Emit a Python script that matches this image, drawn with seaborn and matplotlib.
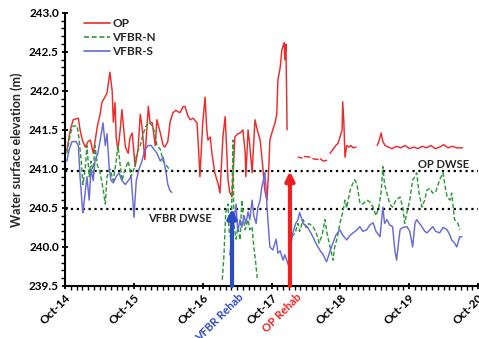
import numpy as np
import pandas as pd
import matplotlib
matplotlib.use("Agg")
import matplotlib.pyplot as plt
import seaborn as sns
from matplotlib.ticker import MultipleLocator

nan = np.nan

# months since Oct-2014
op_month = [0.3, 0.9, 1.4, 2.3, 2.6, 3.0, 3.5, 4.0, 4.4, 4.9, 5.6, 6.1, 6.4, 7.3, 7.8, 8.2, 8.4, 8.7, 8.9, 9.2,
            9.6, 9.9, 10.5, 11.0, 11.3, 11.7, 12.2, 12.7, 13.1, 13.4, 13.9, 14.5, 14.8, 15.2, 15.7, 16.0, 16.6, 17.1,
            17.4, 17.9, 18.3, 18.8, 19.3, 20.0, 20.6, 20.9, 21.4, 21.8, 22.3, 23.0, 23.3, 23.5, 24.0, 24.4, 24.7,
            24.9, 25.3, 25.6, 26.1, 26.7, 27.0, 27.5, 27.9, 28.2, 28.4, 28.7, 29.1, 29.6, 30.1, 30.5, 31.0, 31.4,
            31.5, 31.9, 32.2, 32.6, 33.1, 33.5, 34.0, 34.5, 34.8, 35.2, 35.5, 35.7, 36.2, 36.6, 36.9, 37.1, 37.5,
            37.8, 38.2, 38.3, 38.5, 38.7, nan,
            40.6, 41.3, nan, 41.7, 42.7, nan, 43.2, 44.1, nan, 44.5, 45.0, 45.6, nan,
            46.2, 46.7, 47.2, 47.6, 47.9, 48.3, 48.4, 48.6, 48.8, 49.1, 49.5, 49.8, 50.2, 50.7, nan,
            54.4, 54.7, 55.1, 55.4, 55.8, 56.3, 57.0, 57.8, 58.5, 59.3, 60.0, 60.8, 61.5, 62.3, 63.0, 63.8, 64.5,
            65.3, 66.0, 66.8, 67.5, 68.3, 69.3]
op_level = [241.24, 241.50, 241.63, 241.65, 241.50, 241.37, 241.28, 241.35, 241.37, 241.20, 241.54, 241.70, 241.85,
            241.97, 242.24, 242.00, 241.60, 241.85, 241.40, 241.24, 241.50, 241.76, 241.28, 241.20, 241.40, 241.46,
            241.03, 241.24, 241.70, 241.54, 241.12, 241.80, 241.60, 241.59, 241.30, 241.63, 241.46, 241.30, 241.28,
            241.35, 241.60, 241.72, 241.75, 241.72, 241.80, 241.80, 241.68, 241.63, 241.65, 241.59, 241.20, 240.90,
            241.60, 241.92, 241.50, 241.37, 241.41, 241.20, 240.95, 240.80, 240.69, 241.40, 241.67, 241.20, 240.86,
            240.70, 240.64, 241.41, 241.45, 241.46, 241.50, 241.20, 240.90, 241.50, 241.30, 240.95, 241.63, 241.50,
            241.37, 241.00, 240.73, 240.60, 241.00, 241.37, 241.50, 241.59, 241.70, 242.14, 242.30, 242.53, 242.62,
            242.40, 242.60, 241.50, nan,
            241.15, 241.14, nan, 241.16, 241.15, nan, 241.13, 241.12, nan, 241.13, 241.10, 241.11, nan,
            241.20, 241.25, 241.30, 241.33, 241.40, 241.50, 241.86, 241.60, 241.15, 241.30, 241.28, 241.30, 241.27,
            241.28, nan,
            241.30, 241.35, 241.46, 241.35, 241.30, 241.28, 241.26, 241.29, 241.27, 241.30, 241.26, 241.28, 241.26,
            241.29, 241.27, 241.30, 241.26, 241.28, 241.31, 241.27, 241.29, 241.27, 241.27]

vn_month = [0.3, 0.9, 1.4, 2.1, 2.4, 2.8, 3.1, 3.5, 3.8, 4.2, 4.5, 4.9, 5.2, 5.6, 6.1, 6.6, 7.0, 7.3, 7.8, 8.4,
            8.9, 9.2, 9.6, 9.9, 10.5, 11.0, 11.5, 12.0, 12.5, 13.1, 13.6, 14.1, 14.6, 15.2, 15.7, 16.0, 16.6, 17.1,
            17.6, 18.1, 18.6, nan,
            27.4, 27.7, 28.0, 28.4, 28.6, 28.9, 29.3, 29.4, 29.8, 30.1, 30.5, 30.8, 31.2, 31.4, 31.9, 32.2, 32.6,
            32.9, 33.3, 33.5, nan,
            39.5, 40.1, 40.6, 40.9, 41.5, 42.0, 42.5, 43.2, 43.7, 44.3, 44.8, 45.3, 45.6, 46.2, 46.7, 47.0, 47.4,
            47.9, 48.4, 48.8, 49.1, 49.7, 50.2, 50.5, 50.9, 51.4, 51.9, 52.6, 53.1, 53.7, 54.2, 54.7, 55.1, 55.4,
            55.7, 56.1, 56.6, 57.1, 57.7, 58.4, 58.9, 59.2, 59.6, 60.1, 60.6, 61.0, 61.3, 61.7, 62.2, 62.7, 63.1,
            63.6, 64.1, 64.6, 65.3, 65.9, 66.2, 66.6, 67.1, 67.4, 67.9, 68.5, 68.8]
vn_level = [241.20, 241.45, 241.55, 241.55, 241.40, 241.10, 240.80, 241.00, 241.30, 240.90, 241.10, 240.95, 241.30,
            241.05, 240.95, 240.75, 240.55, 240.90, 241.00, 240.85, 241.10, 241.30, 241.05, 240.85, 241.00, 241.10,
            240.90, 241.00, 241.20, 241.30, 241.45, 241.55, 241.60, 241.55, 241.45, 241.30, 241.25, 241.10, 241.05,
            241.00, 240.98, nan,
            239.58, 239.90, 240.44, 240.55, 240.20, 240.10, 241.37, 240.30, 240.10, 240.25, 240.09, 240.60, 240.30,
            240.22, 240.35, 240.22, 240.26, 240.00, 239.75, 239.60, nan,
            240.13, 240.18, 240.30, 240.20, 240.35, 240.25, 240.30, 240.26, 240.20, 240.05, 240.15, 240.35, 240.20,
            240.00, 239.83, 240.00, 240.10, 240.30, 240.44, 240.60, 240.50, 240.73, 240.82, 240.86, 240.80, 240.56,
            240.55, 240.60, 240.58, 240.51, 240.40, 240.51, 240.70, 241.03, 240.80, 240.69, 240.55, 240.51, 240.60,
            240.64, 240.50, 240.30, 240.44, 240.60, 240.86, 240.90, 240.95, 240.70, 240.51, 240.60, 240.73, 240.75,
            240.69, 240.70, 240.86, 240.95, 240.80, 240.64, 240.60, 240.69, 240.35, 240.30, 240.22]

vs_month = [0.3, 0.7, 1.2, 1.9, 2.3, 2.6, 3.0, 3.1, 3.5, 3.8, 4.2, 4.5, 4.9, 5.2, 5.7, 6.3, 6.6, 7.0, 7.3, 7.7,
            8.0, 8.4, 8.9, 9.4, 9.9, 10.5, 11.0, 11.5, 11.8, 12.0, 12.4, 12.9, 13.4, 13.9, 14.5, 15.0, 15.5, 16.0,
            16.6, 17.1, 17.6, 17.9, 18.3, 18.6, nan,
            28.7, 29.1, 29.4, 29.8, 30.1, 30.5, 30.8, 31.2, 31.5, 31.9, 32.2, 32.6, 32.9, 33.3, 33.6, 34.0, 34.3,
            34.7, 34.8, 35.0, 35.2, 35.5, 35.7, 36.2, 36.8, 37.1, 37.5, 38.0, 38.3, 38.9, 39.2, 39.7, 40.2, 40.6,
            40.9, 41.5, 42.2, 42.7, 43.2, 43.7, 44.4, 45.0, 45.3, 45.6, 46.2, 46.7, 47.2, 47.9, 48.4, 49.1, 49.7,
            50.2, 50.9, 51.4, 51.9, 52.6, 53.1, 53.7, 54.2, 54.9, 55.4, 55.7, 56.1, 56.6, 57.1, 57.5, 57.8, 58.2,
            58.4, 58.9, 59.6, 60.1, 60.6, 61.0, 61.3, 61.8, 62.2, 62.7, 63.1, 63.6, 64.1, 64.6, 65.3, 65.9, 66.6,
            67.1, 67.4, 67.9, 68.3, 68.8, 69.2]
vs_level = [241.10, 241.25, 241.35, 241.35, 241.30, 240.90, 240.50, 240.44, 240.70, 240.90, 240.60, 241.00, 240.85,
            241.10, 241.20, 241.45, 241.59, 241.30, 241.45, 241.00, 240.85, 240.82, 240.90, 240.95, 240.85, 240.80,
            240.85, 240.90, 240.60, 240.38, 240.85, 241.00, 241.10, 241.25, 241.30, 241.30, 241.25, 241.20, 241.10,
            241.15, 240.95, 240.80, 240.72, 240.70, nan,
            239.90, 240.10, 240.30, 240.55, 240.20, 240.35, 240.25, 240.40, 240.30, 240.45, 240.35, 240.60, 240.40,
            240.30, 240.50, 240.60, 240.77, 240.90, 240.95, 240.80, 240.51, 240.20, 240.00, 239.96, 240.10, 239.92,
            239.95, 239.83, 239.90, 239.77, 239.95, 240.18, 240.30, 240.35, 240.44, 240.30, 240.26, 240.20, 240.13,
            240.05, 239.96, 239.90, 239.85, 239.81, 239.95, 240.05, 240.15, 240.22, 240.15, 240.09, 240.15, 240.18,
            240.22, 240.26, 240.20, 240.22, 240.28, 240.31, 240.20, 240.13, 240.51, 240.30, 240.35, 240.28, 240.26,
            239.95, 239.83, 240.10, 240.22, 240.25, 240.26, 240.20, 240.00, 240.30, 240.35, 240.30, 240.26, 240.20,
            240.18, 240.22, 240.26, 240.20, 240.18, 240.25, 240.22, 240.15, 240.09, 240.05, 240.00, 240.13, 240.13]

series_names = ["OP", "VFBR-N", "VFBR-S"]
tick_months = [0, 12, 24, 36, 48, 60, 72]
tick_labels = ["Oct-14", "Oct-15", "Oct-16", "Oct-17", "Oct-18", "Oct-19", "Oct-20"]
op_dwse = 240.97
vfbr_dwse = 240.49
vfbr_rehab_month = 29.1
op_rehab_month = 39.2

# build long table, splitting segments at gaps
rows = []
for name, mm, vv in zip(series_names, [op_month, vn_month, vs_month], [op_level, vn_level, vs_level]):
    seg = 0
    for m, v in zip(mm, vv):
        if np.isnan(m):
            seg += 1
            continue
        rows.append((name, f"{name}_{seg}", m, v))
df = pd.DataFrame(rows, columns=["series", "seg", "month", "level"])

sns.set_style("ticks")
plt.rcParams["font.family"] = ["Lato", "DejaVu Sans"]
plt.rcParams["font.weight"] = "bold"

fig = plt.figure(figsize=(4.79, 3.38), dpi=100)
ax = fig.add_axes([0.136, 0.154, 0.862, 0.808])

colors = {"OP": "#ee2a2a", "VFBR-N": "#2f9a3c", "VFBR-S": "#6a6ad6"}
dashes = {"OP": "", "VFBR-N": (3, 1.6), "VFBR-S": ""}
sns.lineplot(data=df, x="month", y="level", hue="series", style="series", units="seg",
             estimator=None, sort=False, palette=colors, dashes=dashes, lw=1.05,
             hue_order=series_names, style_order=series_names, ax=ax)

ax.axhline(op_dwse, color="black", ls=":", lw=1.6, zorder=1)
ax.axhline(vfbr_dwse, color="black", ls=":", lw=1.6, zorder=1)
ax.text(61.5, op_dwse + 0.02, "OP DWSE", ha="left", va="bottom", fontsize=8, fontweight="bold")
ax.text(14.5, vfbr_dwse - 0.05, "VFBR DWSE", ha="left", va="top", fontsize=8, fontweight="bold")

ax.annotate("", xy=(vfbr_rehab_month, vfbr_dwse), xytext=(vfbr_rehab_month, 239.5),
            arrowprops=dict(arrowstyle="-|>", color="#2b4cc4", lw=3, mutation_scale=13,
                            shrinkA=0, shrinkB=0), zorder=5)
ax.annotate("", xy=(op_rehab_month, op_dwse), xytext=(op_rehab_month, 239.5),
            arrowprops=dict(arrowstyle="-|>", color="#f02020", lw=3, mutation_scale=13,
                            shrinkA=0, shrinkB=0), zorder=5)
ax.annotate("VFBR Rehab", xy=(vfbr_rehab_month, 239.5), xytext=(4, -4), textcoords="offset points",
            rotation=45, rotation_mode="anchor", ha="right", va="top", color="#2b4cc4",
            fontsize=8, fontweight="bold", annotation_clip=False)
ax.annotate("OP Rehab", xy=(op_rehab_month, 239.5), xytext=(4, -4), textcoords="offset points",
            rotation=45, rotation_mode="anchor", ha="right", va="top", color="#f02020",
            fontsize=8, fontweight="bold", annotation_clip=False)

ax.set_xlim(0, 72)
ax.set_ylim(239.5, 243.0)
ax.set_xticks(tick_months)
ax.set_xticklabels(tick_labels, rotation=45, ha="right", rotation_mode="anchor", fontsize=8.5, fontweight="bold")
ax.xaxis.set_minor_locator(MultipleLocator(1))
ax.yaxis.set_major_locator(MultipleLocator(0.5))
ax.yaxis.set_minor_locator(MultipleLocator(0.1))
ax.set_yticks(ax.get_yticks())
ax.set_yticklabels([f"{t:.1f}" for t in ax.get_yticks()], fontsize=8.5, fontweight="bold")
ax.set_ylim(239.5, 243.0)
ax.set_xlabel("")
ax.set_ylabel("Water surface elevation (m)", fontsize=9, fontweight="bold", labelpad=4)

for s in ["top", "right"]:
    ax.spines[s].set_visible(False)
for s in ["left", "bottom"]:
    ax.spines[s].set_linewidth(1.5)
    ax.spines[s].set_color("black")
ax.tick_params(which="major", direction="inout", length=5, width=1.3, colors="black", pad=2)
ax.tick_params(which="minor", direction="out", length=3, width=1.0, colors="black")

handles, labels = ax.get_legend_handles_labels()
keep = [(h, l) for h, l in zip(handles, labels) if l in series_names]
leg = ax.legend([h for h, _ in keep], [l for _, l in keep], loc="upper left",
                bbox_to_anchor=(0.02, 1.02), frameon=False, fontsize=8.5, handlelength=2.2,
                handletextpad=0.2, labelspacing=0.25)
for t in leg.get_texts():
    t.set_fontweight("bold")
for h in leg.get_lines():
    h.set_linewidth(1.2)

fig.savefig("out.png", dpi=100)
